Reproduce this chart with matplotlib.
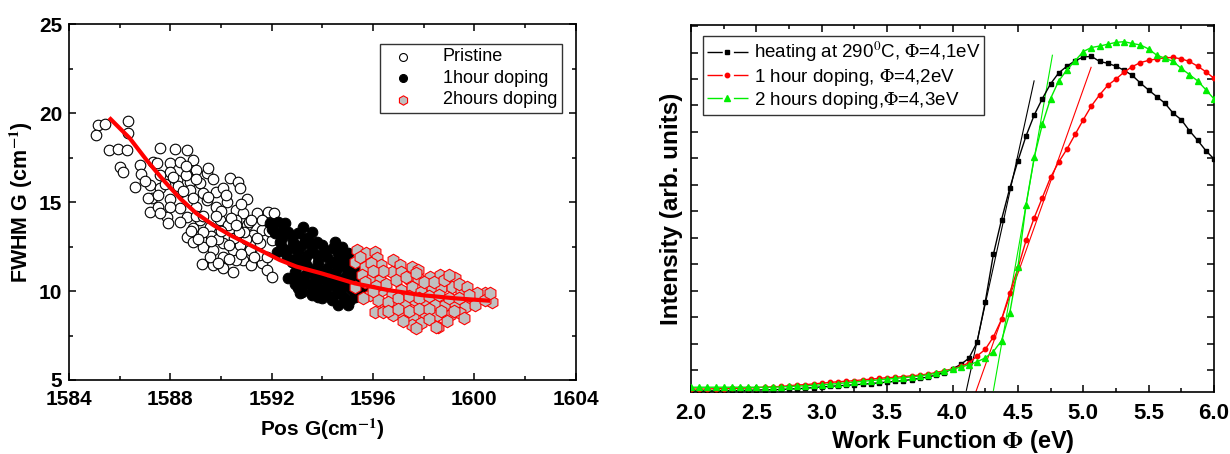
import numpy as np
import matplotlib
matplotlib.use("Agg")
import matplotlib.pyplot as plt
from matplotlib.lines import Line2D
from matplotlib.ticker import MultipleLocator, NullFormatter

plt.rcParams['font.family'] = ['Liberation Sans', 'DejaVu Sans']
plt.rcParams['mathtext.fontset'] = 'stix'

# ---------------- left panel: FWHM vs Pos G ----------------
pristine_x = [1585.15, 1585.42, 1585.06, 1586.31, 1586.34, 1585.59, 1585.94, 1586.27, 1587.59, 1588.18,
              1588.66, 1586.03, 1586.14, 1586.80, 1586.84, 1587.32, 1587.46, 1587.98, 1588.38, 1588.88,
              1589.01, 1586.60, 1587.19, 1587.26, 1587.59, 1587.98, 1588.25, 1588.64, 1588.77, 1589.43,
              1589.69, 1590.35, 1590.68, 1590.74, 1587.13, 1587.52, 1587.98, 1588.38, 1588.77, 1589.16,
              1589.30, 1589.82, 1590.08, 1591.01, 1587.19, 1587.52, 1587.85, 1587.92, 1588.38, 1588.64,
              1589.03, 1589.43, 1589.82, 1590.22, 1590.61, 1590.88, 1591.40, 1591.86, 1588.38, 1588.64,
              1588.90, 1589.16, 1589.56, 1589.95, 1590.28, 1590.61, 1591.01, 1591.27, 1591.60, 1592.00,
              1588.90, 1589.30, 1589.69, 1590.08, 1590.48, 1590.74, 1591.14, 1591.53, 1589.23, 1589.69,
              1590.08, 1590.48, 1590.87, 1591.20, 1591.60, 1591.80, 1592.00, 1589.56, 1590.08, 1590.61,
              1590.50, 1589.00, 1590.00, 1591.00, 1588.30, 1589.60, 1590.90, 1591.50, 1589.90, 1588.60,
              1587.00, 1587.80, 1588.50, 1588.00, 1588.90, 1589.50, 1590.20, 1590.80, 1589.30, 1589.80,
              1590.40, 1591.10, 1591.60, 1588.80, 1589.30, 1590.00, 1590.70, 1591.40, 1591.90, 1589.10,
              1589.60, 1590.30, 1590.80, 1591.30, 1591.80, 1589.90, 1590.30, 1588.10, 1588.60, 1589.50,
              1587.60, 1590.60, 1591.20, 1592.10, 1589.00, 1587.60]
pristine_y = [19.33, 19.38, 18.77, 19.55, 18.90, 17.92, 17.98, 17.92, 18.05, 17.98,
              17.92, 16.95, 16.71, 17.08, 16.56, 17.27, 17.17, 17.17, 17.23, 17.36,
              16.80, 15.86, 15.96, 15.21, 15.77, 16.71, 16.24, 16.52, 16.14, 16.61,
              16.29, 16.33, 16.14, 15.77, 15.21, 15.39, 15.15, 15.58, 15.68, 16.05,
              15.49, 15.58, 15.77, 15.15, 14.46, 14.74, 14.18, 13.80, 14.65, 14.18,
              14.74, 15.11, 14.74, 15.02, 14.55, 14.37, 14.37, 14.46, 13.90, 13.05,
              13.52, 13.99, 13.62, 13.99, 13.71, 13.99, 13.71, 13.15, 13.43, 12.87,
              12.77, 12.49, 12.30, 12.68, 12.30, 12.58, 12.30, 12.68, 11.52, 11.46,
              11.27, 11.09, 11.74, 11.46, 11.56, 11.18, 10.81, 11.93, 11.93, 11.74,
              13.00, 14.20, 14.50, 12.90, 15.90, 13.10, 13.30, 12.00, 12.90, 16.50,
              16.20, 16.00, 15.60, 14.70, 15.20, 15.30, 15.40, 14.90, 14.20, 14.20,
              14.10, 13.90, 14.00, 13.40, 13.30, 13.40, 13.30, 13.00, 13.40, 12.90,
              12.80, 12.60, 12.10, 11.90, 11.90, 11.60, 11.80, 16.40, 17.00, 16.90,
              14.40, 13.70, 14.00, 14.40, 16.30, 16.50]

dop1_x = [1591.93, 1592.26, 1592.52, 1593.25, 1592.13, 1592.65, 1593.05, 1592.33, 1592.85, 1593.44,
          1593.77, 1594.50, 1594.76, 1592.52, 1593.05, 1593.58, 1594.10, 1594.63, 1595.02, 1592.79,
          1593.31, 1593.84, 1594.36, 1594.89, 1595.28, 1592.92, 1593.44, 1593.97, 1594.50, 1595.02,
          1595.42, 1592.65, 1593.18, 1593.71, 1594.23, 1594.76, 1595.28, 1595.55, 1593.05, 1593.58,
          1594.10, 1594.63, 1595.15, 1593.84, 1594.36, 1594.89, 1594.63, 1595.02, 1595.55, 1595.28,
          1595.80, 1592.90, 1593.20,
          1592.00, 1592.40, 1592.80, 1593.30, 1593.60, 1592.40, 1592.80, 1593.20, 1593.60, 1594.00,
          1594.40, 1594.80, 1592.60, 1593.00, 1593.40, 1593.80, 1594.20, 1594.60, 1595.00, 1593.00,
          1593.40, 1593.80, 1594.20, 1594.60, 1595.00, 1595.40, 1592.90, 1593.30, 1593.70, 1594.00,
          1594.40, 1594.90, 1595.20, 1593.40, 1593.80, 1594.20, 1594.50, 1594.90, 1595.30, 1593.60,
          1594.00, 1594.40, 1594.80, 1595.10, 1595.60, 1592.40, 1592.20, 1593.10]
dop1_y = [13.80, 13.89, 13.80, 13.61, 13.24, 13.33, 13.24, 12.77, 12.77, 12.86,
          12.77, 12.77, 12.49, 12.21, 12.30, 12.30, 12.30, 12.11, 12.11, 11.65,
          11.74, 11.65, 11.65, 11.55, 11.46, 11.09, 11.09, 11.09, 10.99, 11.09,
          11.09, 10.71, 10.62, 10.52, 10.43, 10.52, 10.62, 10.24, 10.15, 9.96,
          9.87, 10.05, 10.05, 9.68, 9.49, 9.40, 9.21, 9.21, 9.77, 9.68,
          11.20, 10.40, 9.95,
          13.50, 13.40, 13.10, 13.00, 13.30, 12.50, 12.40, 12.60, 12.60, 12.60,
          12.40, 12.20, 11.90, 11.90, 12.00, 12.00, 11.90, 11.80, 11.80, 11.40,
          11.40, 11.30, 11.30, 11.30, 11.30, 11.60, 10.80, 10.90, 10.80, 10.70,
          10.70, 10.80, 10.90, 10.40, 10.20, 10.20, 10.30, 10.30, 10.30, 9.80,
          9.60, 9.70, 9.70, 9.50, 9.90, 13.00, 12.20, 9.90]

dop2_x = [1595.35, 1595.74, 1596.07, 1595.28, 1595.68, 1596.14, 1596.33, 1596.79, 1597.06, 1597.52,
          1597.78, 1595.28, 1595.55, 1595.94, 1596.27, 1596.73, 1597.12, 1597.45, 1597.78, 1598.24,
          1598.64, 1599.23, 1595.88, 1596.34, 1596.73, 1597.12, 1597.52, 1597.91, 1598.31, 1598.70,
          1599.10, 1599.49, 1599.89, 1600.41, 1600.68, 1596.07, 1596.47, 1596.86, 1597.26, 1597.65,
          1598.05, 1598.44, 1598.84, 1599.23, 1599.62, 1600.02, 1596.40, 1596.80, 1597.19, 1597.59,
          1598.05, 1598.51, 1599.03, 1599.43, 1597.52, 1597.91, 1598.57,
          1595.50, 1595.90, 1596.40, 1596.00, 1595.70, 1596.10, 1596.50, 1596.90, 1597.30, 1597.70,
          1598.00, 1598.40, 1598.80, 1599.00, 1599.40, 1599.70, 1600.10, 1600.40, 1596.20, 1596.60,
          1597.00, 1597.40, 1597.80, 1598.20, 1598.60, 1599.00, 1599.40, 1599.80, 1596.60, 1597.00,
          1597.40, 1597.80, 1598.20, 1598.70, 1599.20, 1599.60, 1597.20, 1598.20, 1598.90, 1597.70,
          1598.50, 1600.60, 1595.60, 1596.00]
dop2_y = [12.30, 12.12, 12.21, 11.65, 11.37, 11.84, 11.46, 11.74, 11.46, 11.37,
          11.18, 10.24, 10.90, 10.71, 10.62, 11.09, 11.09, 10.62, 10.71, 10.80,
          10.90, 10.71, 9.77, 10.05, 9.77, 10.05, 10.24, 9.96, 10.24, 10.15,
          10.24, 9.96, 9.49, 9.87, 9.40, 8.84, 9.21, 9.12, 9.31, 9.49,
          9.31, 9.21, 9.21, 9.31, 9.12, 9.21, 8.84, 8.65, 8.65, 8.56,
          8.75, 8.65, 8.65, 8.75, 8.09, 8.18, 7.99,
          11.90, 11.60, 11.10, 11.10, 10.50, 10.30, 10.40, 10.60, 10.80, 11.00,
          10.50, 10.50, 10.60, 10.90, 10.40, 10.20, 9.90, 9.50, 9.50, 9.40,
          9.60, 9.70, 9.60, 9.70, 9.80, 9.60, 9.60, 9.80, 8.90, 9.00,
          8.90, 9.00, 9.00, 8.90, 8.90, 8.50, 8.30, 8.40, 8.30, 7.90,
          8.00, 9.90, 9.60, 10.00]

fit_x = [1585.64, 1586.40, 1587.06, 1587.72, 1588.38, 1589.03, 1589.69, 1590.35, 1591.01, 1591.67,
         1592.32, 1592.98, 1593.97, 1595.28, 1596.60, 1597.91, 1599.23, 1600.54]
fit_y = [19.66, 18.58, 17.36, 16.24, 15.21, 14.36, 13.71, 13.15, 12.68, 12.21,
         11.74, 11.37, 10.99, 10.43, 10.05, 9.77, 9.59, 9.46]

# ---------------- right panel: work function ----------------
energy = np.linspace(2.0, 6.0, 65)
heat_290 = [0.3, 0.3, 0.3, 0.3, 0.4, 0.4, 0.4, 0.5, 0.5, 0.6, 0.6, 0.7, 0.8, 0.9, 1.0, 1.2,
            1.4, 1.5, 1.7, 1.8, 2.0, 2.1, 2.3, 2.5, 2.7, 2.9, 3.1, 3.4, 3.7, 4.1, 4.6, 5.3,
            6.3, 7.5, 9.2, 13.5, 24.5, 37.5, 47.0, 55.5, 63.0, 69.8, 75.5, 80.0, 84.0, 87.0,
            88.8, 90.3, 91.3, 91.5, 90.1, 89.6, 88.8, 87.7, 86.3, 84.2, 82.3, 80.5, 78.7,
            76.0, 74.2, 71.2, 68.6, 65.8, 63.5]
dop_1h = [0.8, 0.8, 0.8, 0.9, 0.9, 1.0, 1.0, 1.1, 1.2, 1.3, 1.4, 1.5, 1.7, 1.9, 2.0, 2.2,
          2.4, 2.6, 2.8, 2.9, 3.1, 3.3, 3.5, 3.7, 3.9, 4.0, 4.2, 4.4, 4.6, 4.9, 5.3, 5.8,
          6.3, 7.0, 7.9, 9.8, 11.6, 15.0, 19.8, 27.0, 33.7, 41.3, 47.5, 53.0, 58.5, 62.7,
          66.2, 70.2, 74.2, 78.0, 81.0, 83.6, 85.3, 87.2, 88.7, 89.8, 90.4, 90.8, 91.1,
          91.2, 90.8, 90.1, 88.8, 87.3, 85.5]
dop_2h = [1.3, 1.3, 1.3, 1.3, 1.3, 1.3, 1.3, 1.3, 1.3, 1.3, 1.3, 1.4, 1.5, 1.6, 1.7, 1.8,
          2.0, 2.1, 2.3, 2.5, 2.7, 2.9, 3.1, 3.3, 3.5, 3.7, 3.9, 4.1, 4.4, 4.7, 5.1, 5.6,
          6.2, 6.8, 7.4, 8.2, 9.3, 11.0, 14.0, 21.5, 34.0, 51.0, 64.0, 73.0, 80.0, 84.8,
          87.8, 90.3, 92.8, 93.9, 94.3, 94.8, 95.3, 95.5, 95.0, 94.6, 93.5, 91.8, 91.0,
          90.1, 88.2, 86.5, 84.8, 82.4, 79.9]

# linear onset fits (end points)
tan_heat_x, tan_heat_y = [4.106, 4.624], [0.45, 84.8]
tan_1h_x, tan_1h_y = [4.178, 5.06], [0.0, 88.5]
tan_2h_x, tan_2h_y = [4.313, 4.764], [0.45, 91.8]

labels_wf = ['heating at 290$^0$C, $\\Phi$=4,1eV',
             '1 hour doping, $\\Phi$=4,2eV',
             '2 hours doping,$\\Phi$=4,3eV']
green = '#00ee00'

fig = plt.figure(figsize=(12.3, 4.54), dpi=100)
ax1 = fig.add_axes([0.0561, 0.163, 0.412, 0.784])
ax2 = fig.add_axes([0.5618, 0.1366, 0.4252, 0.808])

ms = 58
ax1.scatter(pristine_x, pristine_y, s=ms, facecolors='white', edgecolors='black', linewidths=0.8,
            label='Pristine', zorder=2)
ax1.scatter(dop1_x, dop1_y, s=ms, facecolors='black', edgecolors='black', linewidths=0.8,
            label='1hour doping', zorder=3)
ax1.scatter(dop2_x, dop2_y, s=ms * 1.4, marker='h', facecolors='#c0c0c0', edgecolors='red',
            linewidths=0.8, label='2hours doping', zorder=4)
ax1.plot(fit_x, fit_y, color='red', lw=3, zorder=5)

ax1.set_xlim(1584, 1604)
ax1.set_ylim(5, 25)
ax1.xaxis.set_major_locator(MultipleLocator(4))
ax1.xaxis.set_minor_locator(MultipleLocator(2))
ax1.yaxis.set_major_locator(MultipleLocator(5))
ax1.yaxis.set_minor_locator(MultipleLocator(2.5))
ax1.set_xlabel('Pos G(cm$^{\\mathbf{-1}}$)', fontsize=15, fontweight='bold', labelpad=6)
ax1.set_ylabel('FWHM G (cm$^{\\mathbf{-1}}$)', fontsize=15.5, fontweight='bold', labelpad=3)
leg1 = ax1.legend(loc='upper right', bbox_to_anchor=(0.99, 0.97), fontsize=13, frameon=True,
                  fancybox=False, edgecolor='black', handletextpad=1.2, borderpad=0.25,
                  labelspacing=0.25, markerscale=0.75, scatterpoints=1)
leg1.get_frame().set_linewidth(1.0)

ax2.plot(energy, heat_290, color='black', lw=1, marker='s', ms=3, zorder=3)
ax2.plot(energy, dop_1h, color='red', lw=1, marker='o', ms=3.2, zorder=3)
ax2.plot(energy, dop_2h, color=green, lw=1, marker='^', ms=3.8, zorder=3)
ax2.plot(tan_heat_x, tan_heat_y, color='black', lw=0.8)
ax2.plot(tan_1h_x, tan_1h_y, color='red', lw=0.8)
ax2.plot(tan_2h_x, tan_2h_y, color=green, lw=0.8)

ax2.set_xlim(2.0, 6.0)
ax2.set_ylim(0, 100)
ax2.xaxis.set_major_locator(MultipleLocator(0.5))
ax2.xaxis.set_minor_locator(MultipleLocator(0.25))
ax2.set_yticks(np.arange(5.9, 100, 7.22))
ax2.yaxis.set_major_formatter(NullFormatter())
ax2.set_xlabel('Work Function $\\mathbf{\\Phi}$ (eV)', fontsize=17, fontweight='bold', labelpad=3)
ax2.set_ylabel('Intensity (arb. units)', fontsize=17.5, fontweight='bold', labelpad=2)

# legend handles: dash - marker - dash, as in the original software
dash = (0, (11, 8))
handles = [Line2D([], [], color='black', lw=1, ls=dash, marker='s', ms=3),
           Line2D([], [], color='red', lw=1, ls=dash, marker='o', ms=3.2),
           Line2D([], [], color=green, lw=1, ls=dash, marker='^', ms=3.8)]
leg2 = ax2.legend(handles, labels_wf, loc='upper left', bbox_to_anchor=(0.012, 0.985), fontsize=13.5,
                  frameon=True, fancybox=False, edgecolor='black', handlelength=2.2,
                  handletextpad=0.3, borderpad=0.2, labelspacing=0.12, borderaxespad=0.3)
leg2.get_frame().set_linewidth(1.0)

for ax in (ax1, ax2):
    for sp in ax.spines.values():
        sp.set_linewidth(1.2)
    ax.tick_params(which='both', direction='in', top=True, right=True, width=1.1)
    ax.tick_params(which='major', length=5)
    ax.tick_params(which='minor', length=3)
    for t in ax.get_xticklabels() + ax.get_yticklabels():
        t.set_fontweight('bold')
ax1.tick_params(labelsize=15)
ax1.tick_params(axis='x', pad=7)
ax1.tick_params(axis='y', pad=5)
ax2.tick_params(axis='x', labelsize=16, pad=8)

fig.savefig('out.png', dpi=100)
